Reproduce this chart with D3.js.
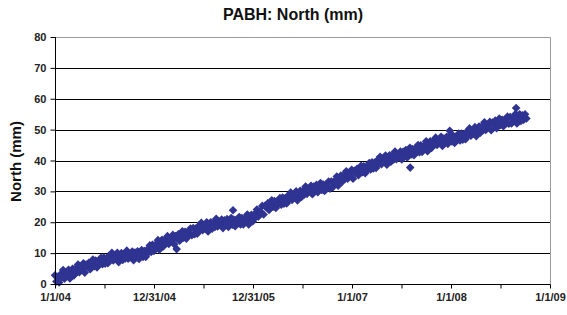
<!DOCTYPE html>
<html>
<head>
<meta charset="utf-8">
<script src="https://cdn.jsdelivr.net/npm/d3@7"></script>
<style>
  html, body { margin: 0; padding: 0; background: #fff; }
  svg { display: block; }
  text { font-family: "Liberation Sans", Arial, sans-serif; }
</style>
</head>
<body>
<svg id="chart" width="567" height="315"></svg>
<script>
// ---------- DATA ----------
const chartTitle = "PABH: North (mm)";
const yAxisTitle = "North (mm)";
const xTickLabels = ["1/1/04", "12/31/04", "12/31/05", "1/1/07", "1/1/08", "1/1/09"];
const yTickValues = [0, 10, 20, 30, 40, 50, 60, 70, 80];
const axisSpanDays = 1827; // 1/1/04 .. 1/1/09

// days since 1/1/04
const dayOffsets = [
0,5,10,15,20,25,30,35,40,45,50,55,60,65,70,75,80,85,90,95,100,105,110,115,120,125,130,135,140,145,150,155,160,165,170,175,
180,185,190,195,200,205,210,215,220,225,230,235,240,245,250,255,260,265,270,275,280,285,290,295,300,305,310,315,320,325,330,335,340,345,350,355,
360,365,370,375,380,385,390,395,400,405,410,415,420,425,430,435,440,445,450,455,460,465,470,475,480,485,490,495,500,505,510,515,520,525,530,535,
540,545,550,555,560,565,570,575,580,585,590,595,600,605,610,615,620,625,630,635,640,645,650,655,660,665,670,675,680,685,690,695,700,705,710,715,
720,725,730,735,740,745,750,755,760,765,770,775,780,785,790,795,800,805,810,815,820,825,830,835,840,845,850,855,860,865,870,875,880,885,890,895,
900,905,910,915,920,925,930,935,940,945,950,955,960,965,970,975,980,985,990,995,1000,1005,1010,1015,1020,1025,1030,1035,1040,1045,1050,1055,1060,1065,1070,1075,
1080,1085,1090,1095,1100,1105,1110,1115,1120,1125,1130,1135,1140,1145,1150,1155,1160,1165,1170,1175,1180,1185,1190,1195,1200,1205,1210,1215,1220,1225,1230,1235,1240,1245,1250,1255,
1260,1265,1270,1275,1280,1285,1290,1295,1300,1305,1310,1315,1320,1325,1330,1335,1340,1345,1350,1355,1360,1365,1370,1375,1380,1385,1390,1395,1400,1405,1410,1415,1420,1425,1430,1435,
1440,1445,1450,1455,1460,1465,1470,1475,1480,1485,1490,1495,1500,1505,1510,1515,1520,1525,1530,1535,1540,1545,1550,1555,1560,1565,1570,1575,1580,1585,1590,1595,1600,1605,1610,1615,
1620,1625,1630,1635,1640,1645,1650,1655,1660,1665,1670,1675,1680,1685,1690,1695,1700,1705,1710,1715,1720,1725,1730,1735,1740
];
// north displacement, mm
const northMm = [
2.8,0.8,2.3,0.5,3.1,2.2,4.5,1.7,3.7,2.8,4.6,1.8,4.0,4.9,2.8,4.9,3.8,6.3,3.8,5.3,4.9,6.7,3.7,6.3,5.7,6.9,4.8,6.3,7.9,5.8,7.6,5.4,7.4,6.6,8.5,6.4,
8.6,6.6,8.4,6.7,9.1,8.0,10.1,7.6,9.1,8.2,10.1,7.1,9.0,10.0,7.8,9.6,8.3,10.8,8.2,9.4,8.9,10.5,7.7,10.2,9.4,10.6,8.1,9.9,11.0,8.8,10.7,8.8,11.1,10.2,12.5,10.4,
12.7,10.7,12.6,12.0,14.2,11.1,13.3,14.3,12.2,14.2,13.1,15.5,13.0,14.5,14.0,15.9,12.9,15.5,14.8,16.1,14.0,15.5,17.1,15.0,16.9,14.7,16.8,16.0,18.0,15.8,18.1,16.1,18.0,16.3,18.8,17.6,
19.8,17.4,18.9,18.0,20.0,17.0,19.0,20.0,17.9,19.8,18.5,21.1,18.6,19.8,19.3,20.9,18.1,20.6,19.8,21.0,18.5,20.3,21.4,19.2,20.9,18.7,20.8,19.6,21.7,19.3,21.4,19.3,21.1,20.3,22.5,19.3,
21.4,22.4,20.3,22.5,21.6,24.1,21.8,23.5,23.2,25.3,22.5,25.3,24.8,26.1,24.0,25.5,27.1,25.0,26.9,24.6,26.7,25.9,27.8,25.7,28.0,26.0,27.8,26.1,28.6,27.5,29.6,27.2,28.8,28.0,30.0,27.1,
29.2,30.2,28.2,30.2,29.0,31.6,29.2,30.5,30.1,31.8,29.1,31.6,30.9,32.1,29.7,31.5,32.7,30.5,32.2,30.1,32.2,31.1,33.2,30.9,33.2,31.3,33.2,32.6,34.8,31.8,34.0,35.1,33.1,35.2,34.2,36.5,
34.1,35.6,35.1,37.0,34.1,36.7,36.0,37.3,35.2,36.7,38.3,36.2,38.1,35.9,38.0,37.2,39.2,37.1,39.4,37.4,39.3,37.6,40.1,39.0,41.2,38.8,40.4,39.6,41.6,38.6,40.6,41.7,39.6,41.6,40.3,42.9,
40.4,41.7,41.3,42.9,40.3,42.8,42.1,43.4,41.0,42.9,44.1,42.0,43.7,41.7,43.9,42.8,45.0,42.7,44.9,42.8,44.7,44.0,46.2,43.0,45.2,46.2,44.1,46.1,45.1,47.4,45.0,46.4,45.9,47.7,44.7,47.1,
46.4,47.6,45.4,46.8,48.4,46.2,48.0,45.7,47.7,46.8,48.7,46.5,48.7,46.7,48.6,46.9,49.3,48.2,50.4,48.0,49.5,48.7,50.8,47.9,50.0,51.0,49.0,51.0,49.8,52.4,49.9,51.2,50.8,52.5,49.8,52.3,
51.7,52.9,50.5,52.4,53.6,51.5,53.2,51.1,53.2,52.1,54.2,51.9,54.1,52.0,53.8,53.0,55.1,52.0,54.1,55.0,52.8,54.6,53.2,55.0,53.6
];
// isolated points standing off the main band
const outlierDays  = [449, 657, 1311, 1457, 1702];
const outlierNorth = [11.3, 23.9, 37.7, 49.6, 57.0];

// ---------- LAYOUT ----------
const svg = d3.select("#chart");
const plot = { left: 55, right: 550, top: 37, bottom: 284 };
const markerColor = "#2F3392";

const x = d3.scaleLinear().domain([0, axisSpanDays]).range([plot.left, plot.right]);
const y = d3.scaleLinear().domain([0, 80]).range([plot.bottom, plot.top]);

// title
svg.append("text")
  .attr("x", 293).attr("y", 20)
  .attr("text-anchor", "middle")
  .attr("font-size", 16).attr("font-weight", "bold")
  .attr("fill", "#111")
  .text(chartTitle);

// gridlines (10..70)
svg.append("g").selectAll("line")
  .data(yTickValues.filter(v => v > 0 && v < 80))
  .join("line")
  .attr("x1", plot.left).attr("x2", plot.right)
  .attr("y1", d => Math.round(y(d)) + 0.5).attr("y2", d => Math.round(y(d)) + 0.5)
  .attr("stroke", "#000").attr("stroke-width", 1);

// plot border (top & right grey)
svg.append("path")
  .attr("d", `M${plot.left},${plot.top + 0.5}H${plot.right + 0.5}V${plot.bottom}`)
  .attr("fill", "none").attr("stroke", "#9a9a9a").attr("stroke-width", 1);

// points
const points = dayOffsets.map((d, i) => ({ d, v: northMm[i] }))
  .concat(outlierDays.map((d, i) => ({ d, v: outlierNorth[i] })));
const r = 4.3;
svg.append("g").selectAll("path")
  .data(points)
  .join("path")
  .attr("d", `M0,${-r}L${r},0L0,${r}L${-r},0Z`)
  .attr("transform", p => `translate(${x(p.d)},${y(p.v)})`)
  .attr("fill", markerColor);

// y axis
const yAxis = d3.axisLeft(y).tickValues(yTickValues).tickSize(5).tickPadding(4)
  .tickFormat(d3.format("d"));
const gy = svg.append("g").attr("transform", `translate(${plot.left + 0.5},0)`).call(yAxis);
gy.select(".domain").attr("stroke", "#000").attr("d", `M-0.0,${plot.top}V${plot.bottom}`);
gy.selectAll(".tick line").attr("stroke", "#000");
gy.selectAll(".tick text").attr("font-size", 11).attr("font-weight", "bold")
  .attr("fill", "#222").attr("font-family", "Liberation Sans, Arial, sans-serif");

// x axis: major ticks at equal fifths, minor ticks halfway
const majorTicks = xTickLabels.map((_, i) => i * axisSpanDays / (xTickLabels.length - 1));
const minorTicks = majorTicks.slice(0, -1).map((t, i) => (t + majorTicks[i + 1]) / 2);
const gxMinor = svg.append("g").attr("transform", `translate(0,${plot.bottom + 0.5})`)
  .call(d3.axisBottom(x).tickValues(minorTicks).tickSize(4).tickFormat(""));
gxMinor.select(".domain").remove();
gxMinor.selectAll(".tick line").attr("stroke", "#000");

const xAxis = d3.axisBottom(x).tickValues(majorTicks).tickSize(4).tickPadding(5)
  .tickFormat((d, i) => xTickLabels[i]);
const gx = svg.append("g").attr("transform", `translate(0,${plot.bottom + 0.5})`).call(xAxis);
gx.select(".domain").attr("stroke", "#000").attr("d", `M${plot.left},0H${plot.right + 0.5}`);
gx.selectAll(".tick line").attr("stroke", "#000");
gx.selectAll(".tick text").attr("font-size", 11).attr("font-weight", "bold")
  .attr("fill", "#222").attr("font-family", "Liberation Sans, Arial, sans-serif");

// y axis title
svg.append("text")
  .attr("transform", `translate(21,${(plot.top + plot.bottom) / 2 + 1}) rotate(-90)`)
  .attr("text-anchor", "middle")
  .attr("font-size", 15).attr("font-weight", "bold")
  .attr("fill", "#111")
  .text(yAxisTitle);
</script>
</body>
</html>
